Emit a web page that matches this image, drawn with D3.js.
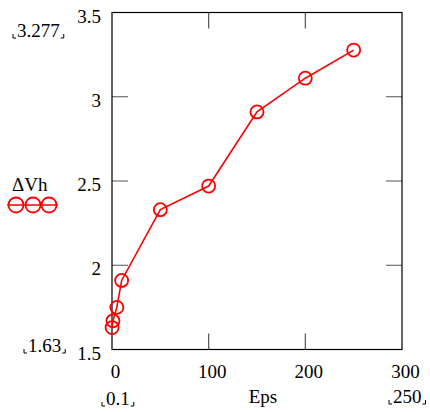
<!DOCTYPE html>
<html>
<head>
<meta charset="utf-8">
<script src="https://cdn.jsdelivr.net/npm/d3@7"></script>
</head>
<body style="margin:0;background:#fff">
<svg width="430" height="412"></svg>
<script>
// data
const eps = [0.1, 1, 5, 10, 50, 100, 150, 200, 250];
const dvh = [1.63, 1.67, 1.75, 1.91, 2.33, 2.47, 2.91, 3.11, 3.277];
const xTicks = [0, 100, 200, 300];
const yTicks = [1.5, 2, 2.5, 3, 3.5];

const svg = d3.select("svg")
  .style("font-family", "'Liberation Serif', 'DejaVu Serif', serif")
  .style("font-size", "19px");
const pLeft = 112, pRight = 402, pTop = 12.5, pBottom = 349.5;

const x = d3.scaleLinear().domain([0, 300]).range([pLeft, pRight]);
const y = d3.scaleLinear().domain([1.5, 3.5]).range([pBottom, pTop]);

const tickLen = 16;

// inner ticks on all four sides
const xi = xTicks.slice(1, -1), yi = yTicks.slice(1, -1);
svg.selectAll(".xt").data(xi).enter().append("path")
  .attr("d", d => `M${x(d)},${pBottom}V${pBottom - tickLen}M${x(d)},${pTop}V${pTop + tickLen}`)
  .attr("stroke", "#555").attr("stroke-width", 1.2);
svg.selectAll(".yt").data(yi).enter().append("path")
  .attr("d", d => `M${pLeft},${y(d)}H${pLeft + tickLen}M${pRight},${y(d)}H${pRight - tickLen}`)
  .attr("stroke", "#555").attr("stroke-width", 1.2);

// frame
svg.append("rect")
  .attr("x", pLeft).attr("y", pTop)
  .attr("width", pRight - pLeft).attr("height", pBottom - pTop)
  .attr("fill", "none").attr("stroke", "#000").attr("stroke-width", 1.2);

// tick labels
svg.selectAll(".xl").data(xTicks).enter().append("text")
  .attr("x", d => x(d) + 3.5).attr("y", 378)
  .attr("text-anchor", "middle").text(d => d);
svg.selectAll(".yl").data(yTicks).enter().append("text")
  .attr("x", 101).attr("y", d => y(d) + 10)
  .attr("text-anchor", "end").text(d => d);

// axis titles
svg.append("text").attr("x", 263).attr("y", 403).attr("text-anchor", "middle").text("Eps");
svg.append("text").attr("x", 12).attr("y", 191).text("ΔVh");

// range markers with small corner brackets
function marker(str, xx, yy) {
  const t = svg.append("text").attr("x", xx).attr("y", yy).text(str);
  const b = t.node().getBBox();
  const by = yy + 1, h = 4, w = 3;
  svg.append("path")
    .attr("d", `M${b.x - 4},${by - h}V${by}h${w}M${b.x + b.width + 4},${by - h}V${by}h${-w}`)
    .attr("fill", "none").attr("stroke", "#000").attr("stroke-width", 1);
}
marker(d3.max(dvh), 17, 37);
marker(d3.min(dvh), 28, 352);
marker(d3.min(eps), 106, 405);
marker(d3.max(eps), 393, 403);

// series
const line = d3.line().x((d, i) => x(eps[i])).y(d => y(d));
svg.append("path").datum(dvh)
  .attr("d", line)
  .attr("fill", "none").attr("stroke", "#f00").attr("stroke-width", 1.6);
svg.selectAll(".pt").data(dvh).enter().append("circle")
  .attr("cx", (d, i) => x(eps[i])).attr("cy", d => y(d)).attr("r", 6.5)
  .attr("fill", "none").attr("stroke", "#f00").attr("stroke-width", 1.8);

// legend
const ly = 205;
svg.append("path").attr("d", `M7,${ly}H58`).attr("stroke", "#f00").attr("stroke-width", 1.6);
svg.selectAll(".lg").data([16, 33, 49]).enter().append("circle")
  .attr("cx", d => d).attr("cy", ly).attr("r", 7.5)
  .attr("fill", "none").attr("stroke", "#f00").attr("stroke-width", 1.8);
</script>
</body>
</html>
